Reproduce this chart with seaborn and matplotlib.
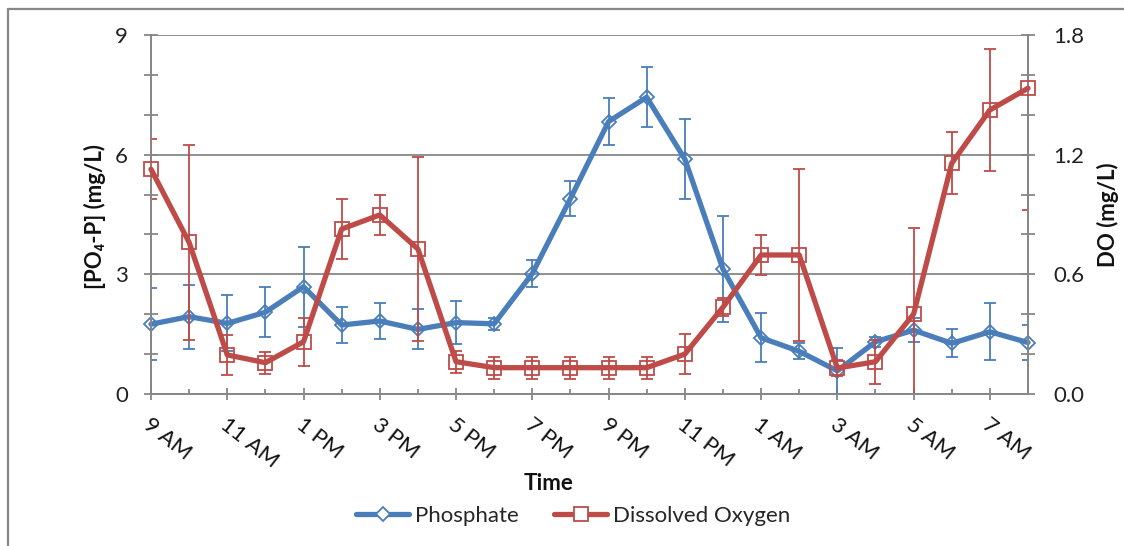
import matplotlib
matplotlib.use("Agg")
import matplotlib.pyplot as plt
import seaborn as sns
import pandas as pd
import numpy as np
from matplotlib.lines import Line2D
from matplotlib.ticker import MultipleLocator, FixedLocator, FormatStrFormatter
from matplotlib.transforms import ScaledTranslation

# Hourly sampling, 9 AM through 8 AM the next morning
hours = ["9 AM", "10 AM", "11 AM", "12 PM", "1 PM", "2 PM", "3 PM", "4 PM",
         "5 PM", "6 PM", "7 PM", "8 PM", "9 PM", "10 PM", "11 PM", "12 AM",
         "1 AM", "2 AM", "3 AM", "4 AM", "5 AM", "6 AM", "7 AM", "8 AM"]

phosphate = [1.75, 1.94, 1.77, 2.05, 2.69, 1.73, 1.83, 1.62, 1.79, 1.76, 3.02, 4.90,
             6.83, 7.44, 5.89, 3.13, 1.41, 1.07, 0.58, 1.31, 1.60, 1.27, 1.56, 1.29]
phosphate_err = [0.90, 0.80, 0.70, 0.62, 1.00, 0.45, 0.45, 0.50, 0.53, 0.15, 0.33, 0.45,
                 0.58, 0.75, 1.00, 1.33, 0.62, 0.20, 0.57, 0.12, 0.30, 0.35, 0.72, 0.44]

dissolved_oxygen = [1.127, 0.760, 0.196, 0.157, 0.262, 0.827, 0.898, 0.727, 0.162, 0.132,
                    0.132, 0.132, 0.132, 0.132, 0.200, 0.435, 0.697, 0.697, 0.130, 0.162,
                    0.401, 1.157, 1.424, 1.533]
dissolved_oxygen_err = [0.150, 0.490, 0.100, 0.055, 0.120, 0.150, 0.100, 0.460, 0.055, 0.055,
                        0.055, 0.055, 0.055, 0.055, 0.100, 0.045, 0.100, 0.430, 0.040, 0.110,
                        0.430, 0.155, 0.305, 0.610]

BLUE = "#4A7EBB"
RED = "#BE4B48"
GRAY = "#878787"
FS = 16

sns.set_theme(style="white")
plt.rcParams["font.family"] = ["Lato", "DejaVu Sans"]

df = pd.DataFrame({
    "hour": np.arange(len(hours)),
    "phosphate": phosphate,
    "phosphate_err": phosphate_err,
    "do": dissolved_oxygen,
    "do_err": dissolved_oxygen_err,
})

W, H = 1124, 546
fig = plt.figure(figsize=(W / 100, H / 100), dpi=100)
fig.patch.set_facecolor("white")

left, right, top, bottom = 151, 1028, 35, 394
ax = fig.add_axes([left / W, 1 - bottom / H, (right - left) / W, (bottom - top) / H])
ax2 = ax.twinx()

# Phosphate on the left axis
ax.errorbar(df["hour"], df["phosphate"], yerr=df["phosphate_err"], fmt="none",
            ecolor=BLUE, elinewidth=1.3, capsize=4, capthick=1.3, zorder=2)
sns.lineplot(data=df, x="hour", y="phosphate", ax=ax, color=BLUE, linewidth=3.8,
             marker="D", markersize=7.5, markerfacecolor="none",
             markeredgecolor=BLUE, markeredgewidth=1.3, zorder=3)
ax.lines[-1].set_clip_on(False)

# Dissolved oxygen on the right axis
ax2.errorbar(df["hour"], df["do"], yerr=df["do_err"], fmt="none",
             ecolor=RED, elinewidth=1.3, capsize=4, capthick=1.3, zorder=2)
sns.lineplot(data=df, x="hour", y="do", ax=ax2, color=RED, linewidth=3.8,
             marker="s", markersize=10.5, markerfacecolor="none",
             markeredgecolor=RED, markeredgewidth=1.3, zorder=3)
ax2.lines[-1].set_clip_on(False)

ax.set_xlim(0, len(hours) - 1)
ax.set_ylim(0, 9)
ax2.set_ylim(0, 1.8)

# Gridlines at major left ticks
for yv in (3, 6, 9):
    ax.axhline(yv, color=GRAY, linewidth=1.3, zorder=0)

for a in (ax, ax2):
    a.set_xlabel("")
    a.set_ylabel("")
    for side in ("left", "right", "bottom"):
        a.spines[side].set_visible(True)
        a.spines[side].set_color(GRAY)
        a.spines[side].set_linewidth(1.3)
    a.spines["top"].set_visible(False)
    a.set_facecolor("none")

ax.set_yticks([0, 3, 6, 9])
ax.yaxis.set_minor_locator(FixedLocator([1, 2, 4, 5, 7, 8]))
ax.tick_params(axis="y", which="both", direction="inout", length=10, width=1.3,
               color=GRAY, left=True, right=False, labelsize=FS, pad=11.5,
               labelcolor="#222222")
ax2.set_yticks([0, 0.6, 1.2, 1.8])
ax2.yaxis.set_major_formatter(FormatStrFormatter("%.1f"))
ax2.yaxis.set_minor_locator(MultipleLocator(0.2))
ax2.tick_params(axis="y", which="both", direction="inout", length=10, width=1.3,
                color=GRAY, right=True, left=False, labelsize=FS, pad=13,
                labelcolor="#222222")

ax.set_xticks(df["hour"][::2])
ax.set_xticklabels(hours[::2])
ax.xaxis.set_minor_locator(FixedLocator(df["hour"][1::2]))
ax.tick_params(axis="x", which="major", direction="inout", length=8.6, width=1.3,
               color=GRAY, bottom=True, labelsize=FS, pad=16, labelcolor="#111111")
ax.tick_params(axis="x", which="minor", direction="in", length=3.6, width=1.3,
               color=GRAY, bottom=True)
ax2.tick_params(axis="x", which="both", bottom=False, labelbottom=False)
shift = ScaledTranslation(-5 / 100, 0, fig.dpi_scale_trans)
for lab in ax.get_xticklabels():
    lab.set_rotation(-38)
    lab.set_rotation_mode("anchor")
    lab.set_ha("left")
    lab.set_va("center")
    lab.set_transform(lab.get_transform() + shift)

# Axis titles
fig.text(95 / W, 1 - 217 / H, "[PO\u2084-P] (mg/L)", rotation=90,
         ha="center", va="center", fontsize=FS, fontweight="bold", color="#111111",
         family=["Lato", "DejaVu Sans"])
fig.text(1108 / W, 1 - 215 / H, "DO (mg/L)", rotation=90,
         ha="center", va="center", fontsize=FS, fontweight="bold", color="#111111")
fig.text(549 / W, 1 - 483 / H, "Time", ha="center", va="center",
         fontsize=FS, fontweight="bold", color="#111111")

# Legend below the plot
handles = [
    Line2D([], [], color=BLUE, linewidth=3.8, marker="D", markersize=7.5,
           markerfacecolor="white", markeredgecolor=BLUE, markeredgewidth=1.3),
    Line2D([], [], color=RED, linewidth=3.8, marker="s", markersize=10.5,
           markerfacecolor="white", markeredgecolor=RED, markeredgewidth=1.3),
]
fig.legend(handles, ["Phosphate", "Dissolved Oxygen"], loc="center",
           bbox_to_anchor=(573 / W, 1 - 516 / H), ncol=2, frameon=False,
           fontsize=FS, handlelength=2.4, handletextpad=0.25, columnspacing=1.6)

# Chart-area border (top and left edges)
fig.add_artist(Line2D([8 / W, 1], [1 - 9 / H, 1 - 9 / H], transform=fig.transFigure,
                      color=GRAY, linewidth=1.6))
fig.add_artist(Line2D([8 / W, 8 / W], [0, 1 - 9 / H], transform=fig.transFigure,
                      color=GRAY, linewidth=1.6))

fig.savefig("out.png", dpi=100, facecolor="white")
